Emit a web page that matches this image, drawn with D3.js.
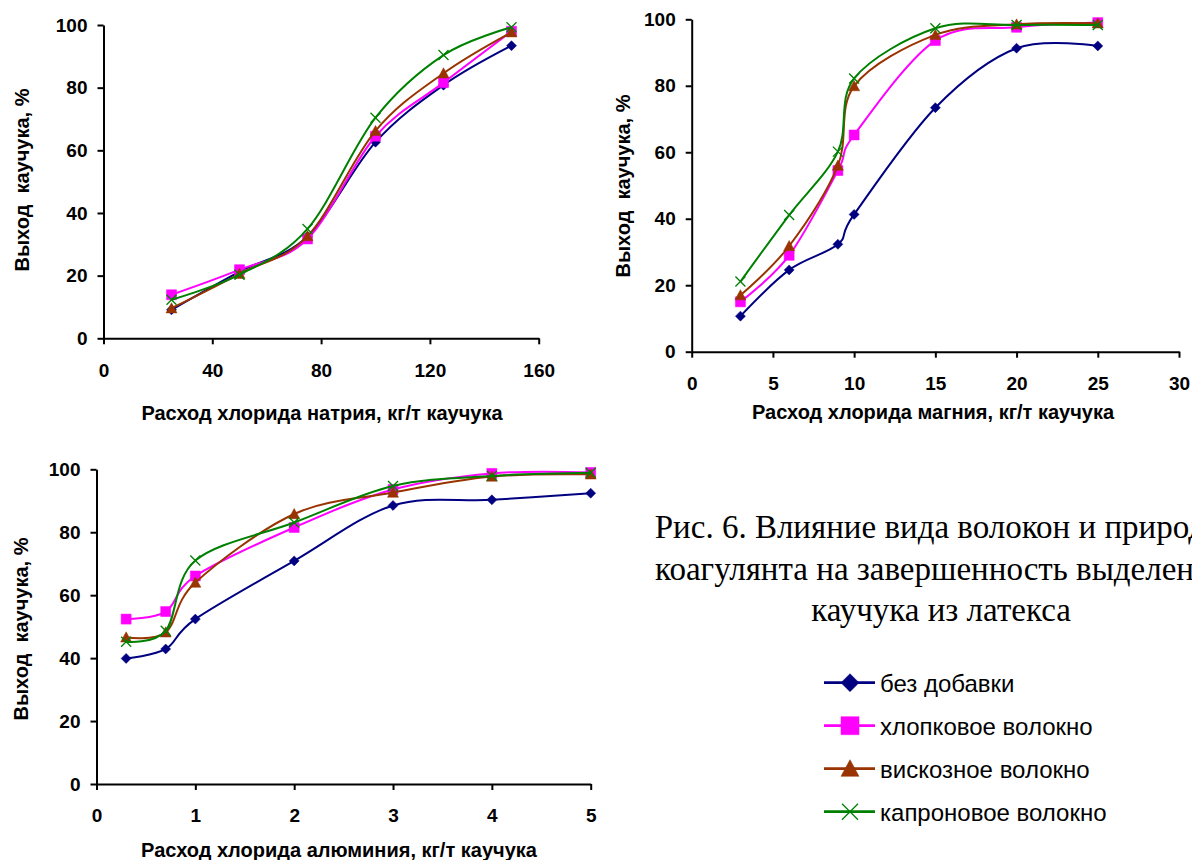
<!DOCTYPE html>
<html><head><meta charset="utf-8">
<script src="https://cdn.jsdelivr.net/npm/d3@7"></script>
<style>html,body{margin:0;padding:0;background:#fff;} svg{display:block;}</style>
</head><body>
<svg id="chart" width="1192" height="860"></svg>
<script>
// ---------- data ----------
const seriesNames = ["без добавки", "хлопковое волокно", "вискозное волокно", "капроновое волокно"];
const yTicks = [0, 20, 40, 60, 80, 100];
const yTitle = "Выход  каучука, %";

const naClDose = [25, 50, 75, 100, 125, 150];
const naClNone = [9.1, 21.3, 32.5, 62.6, 80.8, 93.4];
const naClCotton = [13.9, 21.9, 31.7, 64.5, 81.6, 98.0];
const naClViscose = [9.6, 20.6, 32.6, 66.2, 84.6, 97.7];
const naClCapron = [12.3, 20.3, 34.9, 70.4, 90.4, 99.3];
const naClTicks = [0, 40, 80, 120, 160];
const naClTitle = "Расход хлорида натрия, кг/т каучука";

const mgClDose = [3, 6, 9, 10, 15, 20, 25];
const mgClNone = [10.7, 24.6, 32.3, 41.3, 73.4, 91.3, 92.0];
const mgClCotton = [15.0, 29.0, 54.5, 65.2, 93.6, 97.6, 99.0];
const mgClViscose = [17.0, 31.8, 56.0, 79.9, 95.3, 98.5, 98.8];
const mgClCapron = [21.1, 41.1, 60.2, 82.2, 97.3, 98.3, 98.3];
const mgClTicks = [0, 5, 10, 15, 20, 25, 30];
const mgClTitle = "Расход хлорида магния, кг/т каучука";

const alClDose = [0.3, 0.7, 1, 2, 3, 4, 5];
const alClNone = [39.9, 42.9, 52.4, 70.9, 88.5, 90.3, 92.4];
const alClCotton = [52.4, 54.8, 66.1, 81.5, 93.6, 98.7, 99.0];
const alClViscose = [46.6, 48.2, 64.0, 85.8, 92.6, 97.7, 98.4];
const alClCapron = [45.2, 48.7, 71.0, 83.1, 94.7, 97.9, 98.9];
const alClTicks = [0, 1, 2, 3, 4, 5];
const alClTitle = "Расход хлорида алюминия, кг/т каучука";

const captionLines = [
  "Рис. 6. Влияние вида волокон и природы",
  "коагулянта на завершенность выделения",
  "каучука из латекса"
];

// ---------- styles ----------
const colors = ["#000080", "#FF00FF", "#993300", "#008000"];
const markers = ["diamond", "square", "triangle", "x"];
const SANS = "'Liberation Sans', Arial, sans-serif";
const SERIF = "'Liberation Serif', 'Times New Roman', serif";

const svg = d3.select("#chart");

function markerPath(type, s) {
  const h = s / 2;
  if (type === "diamond") return `M0,${-h}L${h},0L0,${h}L${-h},0Z`;
  if (type === "square") return `M${-h},${-h}H${h}V${h}H${-h}Z`;
  if (type === "triangle") return `M0,${-h}L${h},${h * 0.85}L${-h},${h * 0.85}Z`;
  return `M${-h},${-h}L${h},${h}M${-h},${h}L${h},${-h}`;
}
function drawMarker(g, type, color, size) {
  const p = g.append("path").attr("d", markerPath(type, size));
  if (type === "x") p.attr("fill", "none").attr("stroke", color).attr("stroke-width", 1.3);
  else p.attr("fill", color).attr("stroke", color).attr("stroke-width", 0.5);
}

function panel(cfg) {
  const x = d3.scaleLinear().domain(cfg.xDomain).range([cfg.x0, cfg.x1]);
  const y = d3.scaleLinear().domain([0, 100]).range([cfg.yBot, cfg.yTop]);
  const g = svg.append("g");

  const xa = g.append("g").attr("transform", `translate(0,${cfg.yBot})`)
    .call(d3.axisBottom(x).tickValues(cfg.xTicks).tickSize(6).tickSizeOuter(0).tickPadding(19).tickFormat(d3.format("d")));
  const ya = g.append("g").attr("transform", `translate(${cfg.x0},0)`)
    .call(d3.axisLeft(y).tickValues(yTicks).tickSize(6).tickSizeOuter(0).tickPadding(10).tickFormat(d3.format("d")));
  [xa, ya].forEach(a => {
    a.select(".domain").attr("stroke", "#000").attr("stroke-width", 2);
    a.selectAll(".tick line").attr("stroke", "#000").attr("stroke-width", 2);
    a.selectAll(".tick text").attr("fill", "#000").style("font-family", SANS)
      .style("font-size", "19px").style("font-weight", "bold");
  });

  g.append("text").attr("x", cfg.xtx).attr("y", cfg.xty).attr("text-anchor", "middle")
    .style("font-family", SANS).style("font-size", "20px").style("font-weight", "bold")
    .style("white-space", "pre").text(cfg.xTitle);
  g.append("text").attr("transform", `translate(${cfg.ytx},${cfg.yty}) rotate(-90)`)
    .attr("text-anchor", "middle").attr("dy", "0.36em")
    .style("font-family", SANS).style("font-size", "20px").style("font-weight", "bold")
    .style("white-space", "pre").attr("xml:space", "preserve").text(yTitle);

  const line = d3.line().x(d => x(d[0])).y(d => y(d[1])).curve(d3.curveCardinal.tension(0));
  cfg.series.forEach((vals, i) => {
    const pts = cfg.dose.map((d, j) => [d, vals[j]]);
    g.append("path").datum(pts).attr("d", line).attr("fill", "none")
      .attr("stroke", colors[i]).attr("stroke-width", 2);
    pts.forEach(p => {
      const mg = g.append("g").attr("transform", `translate(${x(p[0])},${y(p[1])})`);
      drawMarker(mg, markers[i], colors[i], i === 2 ? 11 : 10);
    });
  });
}

panel({ xDomain: [0, 160], x0: 103.5, x1: 538.7, yTop: 25, yBot: 338.3, xTicks: naClTicks,
  dose: naClDose, series: [naClNone, naClCotton, naClViscose, naClCapron],
  xTitle: naClTitle, xtx: 322, xty: 420, ytx: 22, yty: 180 });
panel({ xDomain: [0, 30], x0: 691.7, x1: 1179, yTop: 19.3, yBot: 351.7, xTicks: mgClTicks,
  dose: mgClDose, series: [mgClNone, mgClCotton, mgClViscose, mgClCapron],
  xTitle: mgClTitle, xtx: 933, xty: 419, ytx: 623, yty: 186 });
panel({ xDomain: [0, 5], x0: 96.5, x1: 590.7, yTop: 469.3, yBot: 784, xTicks: alClTicks,
  dose: alClDose, series: [alClNone, alClCotton, alClViscose, alClCapron],
  xTitle: alClTitle, xtx: 339, xty: 857, ytx: 21, yty: 629 });

// caption
svg.append("g").selectAll("text").data(captionLines).join("text")
  .attr("x", 941).attr("y", (d, i) => 538 + i * 41.5).attr("text-anchor", "middle")
  .style("font-family", SERIF).style("font-size", "33px").attr("fill", "#000").text(d => d);

// legend
const leg = svg.append("g").selectAll("g").data(seriesNames).join("g")
  .attr("transform", (d, i) => `translate(0,${682.7 + i * 43})`);
leg.append("line").attr("x1", 824).attr("x2", 875).attr("y1", 0).attr("y2", 0)
  .attr("stroke", (d, i) => colors[i]).attr("stroke-width", 2.7);
leg.each(function (d, i) {
  const mg = d3.select(this).append("g").attr("transform", "translate(850,0)");
  drawMarker(mg, markers[i], colors[i], i === 3 ? 16 : 18);
});
leg.append("text").attr("x", 880).attr("y", 9).style("font-family", SANS).style("font-size", "24px")
  .attr("fill", "#000").text(d => d);
</script>
</body></html>
